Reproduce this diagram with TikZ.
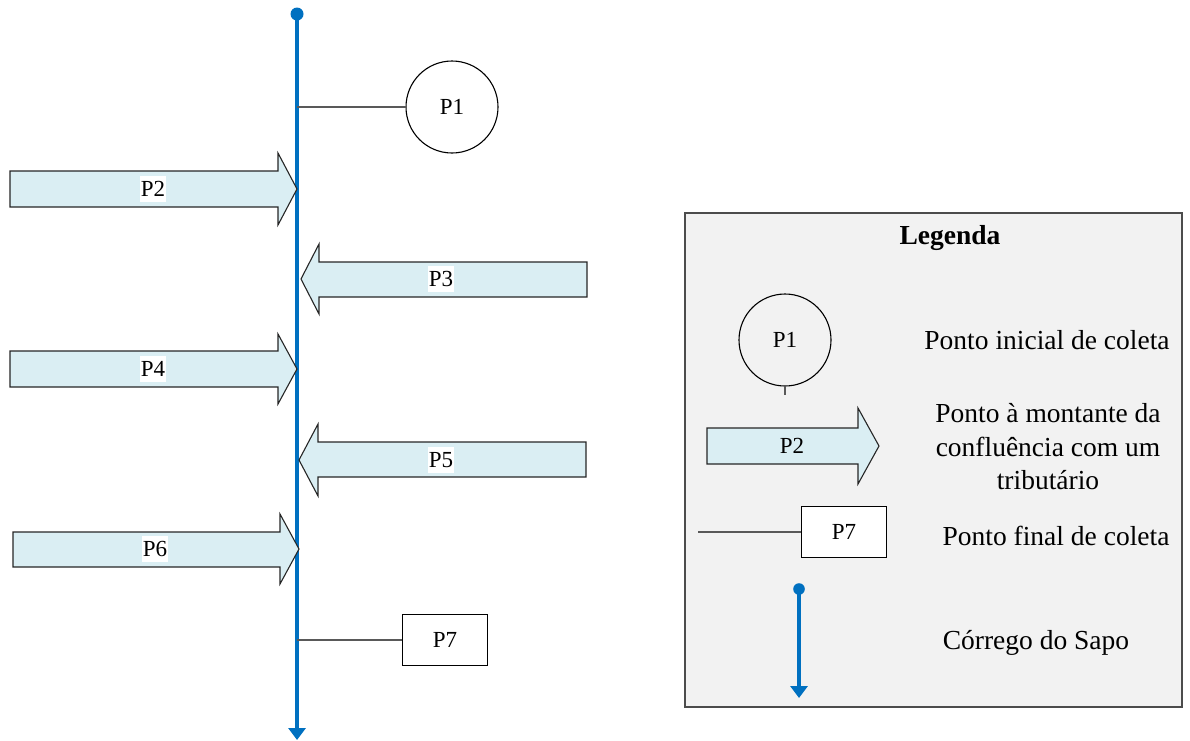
\documentclass[tikz,border=0pt]{standalone}
\usepackage{fontspec}
\setmainfont{Liberation Serif}
\usetikzlibrary{arrows.meta}
\definecolor{river}{HTML}{0070C0}
\definecolor{tribfill}{HTML}{DAEEF3}
\definecolor{legfill}{HTML}{F2F2F2}
\begin{document}
\begin{tikzpicture}[x=1pt,y=-1pt,
  lbl/.style={font=\fontsize{23}{27}\selectfont, inner sep=1pt},
  lblw/.style={lbl, fill=white, inner xsep=1pt, inner ysep=5pt},
  desc/.style={font=\fontsize{27.5}{33.5}\selectfont, align=center},
  trib/.style={draw=black!85, fill=tribfill, line width=1.1pt, line join=miter},
  riverline/.style={draw=river, line width=3.8pt, -{Triangle[length=12pt,width=17pt]}},
  riverdot/.style={fill=river},
  tie/.style={draw=black!65, line width=1.3pt},
  ptbox/.style={draw=black, fill=white, line width=1.1pt, minimum width=85pt, minimum height=51pt, lbl},
  ptcirc/.style={circle, draw=black, line width=1.1pt, minimum size=92pt, inner sep=0pt, lbl}]
\useasboundingbox (0,0) rectangle (1190,740);

% main stream
\coordinate (rtop) at (297,14);
\coordinate (rbot) at (297,740);
\draw[riverline] (rtop) -- (rbot);
\fill[riverdot] (rtop) circle (6.5);

% P1: initial point
\node[ptcirc, fill=white] (p1) at (452,107) {P1};
\draw[tie] (p1.west) -- (p1.west -| rtop);

% tributaries
\draw[trib] (10,171) -- (278,171) -- (278,153) -- (297,189) -- (278,225) -- (278,207) -- (10,207) -- cycle;
\node[lblw] (p2) at (153,189) {P2};

\draw[trib] (587,262) -- (319,262) -- (319,244) -- (301,279) -- (319,314) -- (319,297) -- (587,297) -- cycle;
\node[lblw] (p3) at (441,279) {P3};

\draw[trib] (10,351) -- (278,351) -- (278,334) -- (297,369) -- (278,404) -- (278,387) -- (10,387) -- cycle;
\node[lblw] (p4) at (153,369) {P4};

\draw[trib] (586,442) -- (318,442) -- (318,424) -- (299,460) -- (318,496) -- (318,477) -- (586,477) -- cycle;
\node[lblw] (p5) at (441,460) {P5};

\draw[trib] (13,532) -- (280,532) -- (280,514) -- (299,549) -- (280,584) -- (280,567) -- (13,567) -- cycle;
\node[lblw] (p6) at (155,549) {P6};

% P7: final point
\node[ptbox] (p7) at (445,640) {P7};
\draw[tie] (p7.west) -- (p7.west -| rtop);

% legend
\node[draw=black!70, fill=legfill, line width=1.1pt, minimum width=497pt, minimum height=494pt, inner sep=0pt] (leg) at (933.5,460) {};
\node[font=\fontsize{27.5}{33.5}\selectfont\bfseries] (legtitle) at (950,238) {Legenda};

\node[ptcirc] (lp1) at (785,340) {P1};
\coordinate (lp1tick) at (785,395);
\draw[tie] (lp1.south) -- (lp1tick);
\node[desc] (d1) at (1047,340) {Ponto inicial de coleta};

\draw[trib] (707,428) -- (858,428) -- (858,408) -- (879,446) -- (858,484) -- (858,464) -- (707,464) -- cycle;
\node[lblw, fill=none] (lp2) at (792,446) {P2};
\node[desc] (d2) at (1048,447) {Ponto à montante da\\confluência com um\\tributário};

\node[ptbox] (lp7) at (844,532) {P7};
\coordinate (lp7end) at (698,532);
\draw[tie] (lp7.west) -- (lp7end);
\node[desc] (d3) at (1056,536) {Ponto final de coleta};

\coordinate (lrtop) at (799,589);
\coordinate (lrbot) at (799,698);
\draw[riverline, line width=3.3pt] (lrtop) -- (lrbot);
\fill[riverdot] (lrtop) circle (5.8);
\node[desc] (d4) at (1036,643) {Córrego do Sapo};
\end{tikzpicture}
\end{document}
